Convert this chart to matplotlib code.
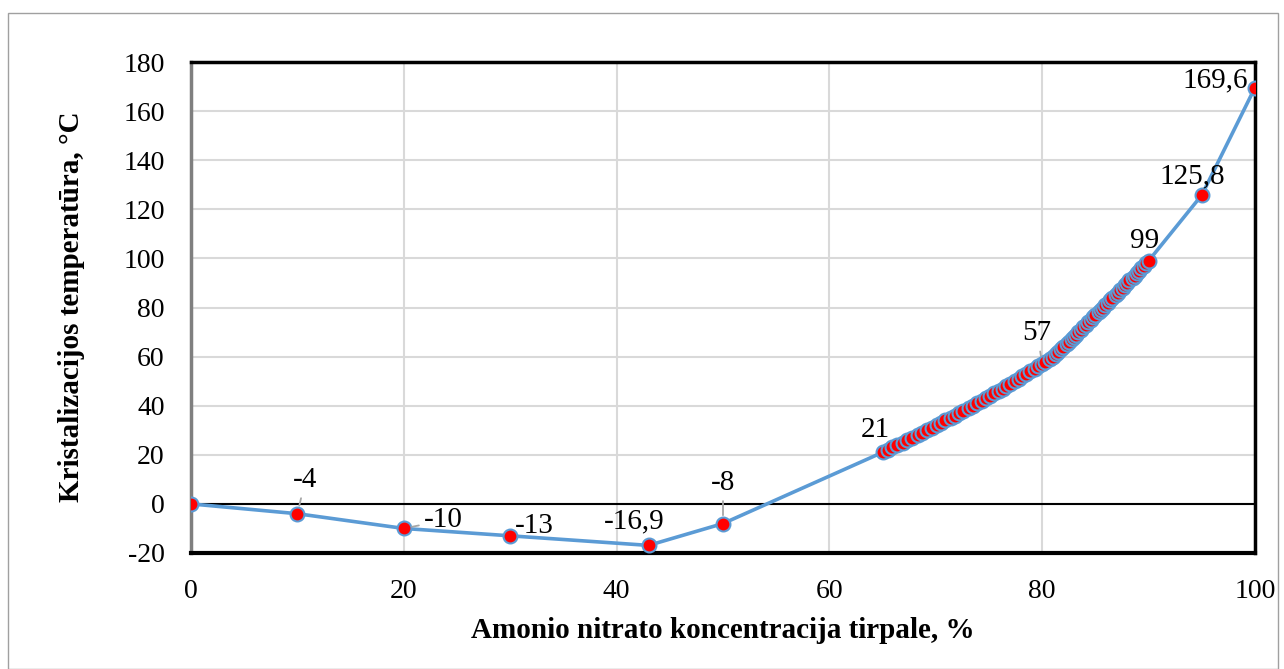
import matplotlib
matplotlib.use("Agg")
import matplotlib.pyplot as plt
import matplotlib.patches as patches

plt.rcParams['font.family'] = ['Liberation Serif', 'DejaVu Serif']
plt.rcParams['axes.unicode_minus'] = False

## data
conc_low = [0, 10, 20, 30, 43, 50]
temp_low = [0, -4, -10, -13, -16.9, -8]

temp_dense = [21, 22, 23, 24, 25, 26, 27, 28, 29, 30,
              31, 32, 33, 34, 35, 36, 37, 38, 39, 40,
              41, 42, 43, 44, 45, 46, 47, 48, 49, 50,
              51, 52, 53, 54, 55, 56, 57, 58, 59, 60,
              61, 62, 63, 64, 65, 66, 67, 68, 69, 70,
              71, 72, 73, 74, 75, 76, 77, 78, 79, 80,
              81, 82, 83, 84, 85, 86, 87, 88, 89, 90,
              91, 92, 93, 94, 95, 96, 97, 98, 99]
conc_dense = [65.0, 65.5, 65.9, 66.4, 66.9, 67.3, 67.8, 68.3, 68.7, 69.2,
              69.6, 70.1, 70.5, 70.9, 71.4, 71.8, 72.2, 72.6, 73.1, 73.5,
              73.9, 74.3, 74.7, 75.1, 75.5, 75.9, 76.3, 76.6, 77.0, 77.4,
              77.8, 78.1, 78.5, 78.9, 79.3, 79.6, 80.0, 80.3, 80.7, 81.0,
              81.3, 81.5, 81.8, 82.0, 82.3, 82.5, 82.8, 83.0, 83.2, 83.4,
              83.6, 83.8, 84.1, 84.3, 84.6, 84.8, 85.0, 85.3, 85.5, 85.7,
              85.9, 86.2, 86.4, 86.6, 86.9, 87.1, 87.3, 87.6, 87.8, 88.0,
              88.2, 88.5, 88.7, 88.9, 89.1, 89.3, 89.6, 89.8, 90.0]

conc_high = [95, 100]
temp_high = [125.8, 169.6]

label_x = [10, 20, 30, 43, 50, 65, 80, 90, 95, 100]
label_y = [-4, -10, -13, -16.9, -8, 21, 57, 99, 125.8, 169.6]
label_text = ["-4", "-10", "-13", "-16,9", "-8", "21", "57", "99", "125,8", "169,6"]

xticks = [0, 20, 40, 60, 80, 100]
yticks = [-20, 0, 20, 40, 60, 80, 100, 120, 140, 160, 180]

x = conc_low + conc_dense + conc_high
y = temp_low + temp_dense + temp_high

W, H = 1284, 669
fig = plt.figure(figsize=(W / 100, H / 100), dpi=100)

## outer chart frame
fig.patches.append(patches.Rectangle((8 / W, 0), 1270 / W, (H - 13) / H,
                                     transform=fig.transFigure, fill=False,
                                     edgecolor="#a0a0a0", lw=1))

ax = fig.add_axes([191 / W, 1 - 553 / H, 1064 / W, 491 / H])

ax.plot(x, y, "-o", color="#5b9bd5", lw=2.6, mfc="red", mec="#5b9bd5",
        ms=10, mew=1.5, zorder=3)
ax.axhline(0, color="black", lw=1.5, zorder=2)

ax.set_xlim(0, 100)
ax.set_ylim(-20, 180)
ax.set_xticks(xticks)
ax.set_yticks(yticks)
ax.grid(True, color="#d9d9d9", lw=1.5)
ax.set_axisbelow(True)
ax.tick_params(length=0, labelsize=20)
ax.tick_params(axis="y", pad=19)
ax.tick_params(axis="x", pad=19)

for s in ["top", "right", "bottom"]:
    ax.spines[s].set_color("black")
    ax.spines[s].set_linewidth(2.5)
ax.spines["left"].set_color("#7f7f7f")
ax.spines["left"].set_linewidth(2.5)
ax.spines["bottom"].set_linewidth(3)

## data labels (offsets in pixels)
offsets = {"-4": (8, 34), "-10": (40, 8), "-13": (24, 10), "-16,9": (-14, 24),
           "-8": (0, 41), "21": (-7, 22), "57": (-5, 31), "99": (-4, 20),
           "125,8": (-10, 19), "169,6": (-7, 7)}
leaders = ["-4", "-10", "-8", "57"]
for lx, ly, t in zip(label_x, label_y, label_text):
    dx, dy = offsets[t]
    ha = "right" if t == "169,6" else "center"
    props = None
    if t in leaders:
        props = dict(arrowstyle="-", color="#a6a6a6", lw=1.3, shrinkA=2, shrinkB=6)
    ax.annotate(t, (lx, ly), xytext=(dx, dy), textcoords="offset pixels",
                ha=ha, va="center", fontsize=21, arrowprops=props, zorder=4)

fig.text(723 / W, 1 - 630 / H, "Amonio nitrato koncentracija tirpale, %",
         ha="center", va="center", fontsize=21, fontweight="bold")
fig.text(72 / W, 1 - 307 / H, "Kristalizacijos temperatūra, °C",
         ha="center", va="center", rotation=90, fontsize=21, fontweight="bold")

plt.savefig("out.png", dpi=100)
